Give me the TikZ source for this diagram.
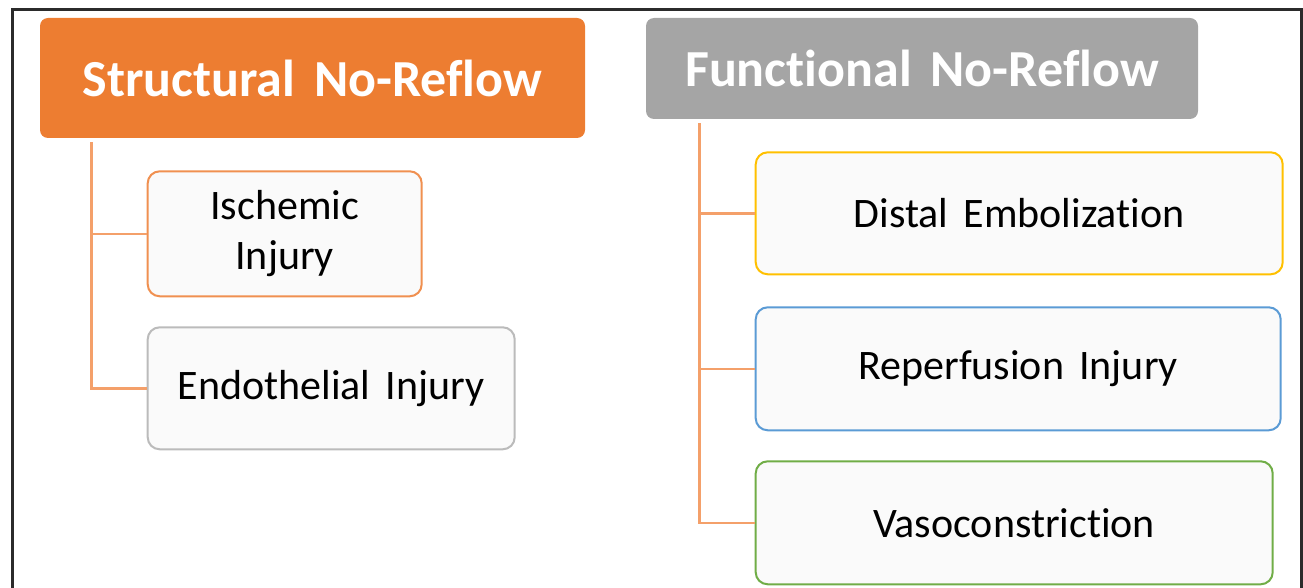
\documentclass[tikz,border=0pt]{standalone}
\usepackage{fontspec}
\setmainfont{Carlito}[WordSpace=1.6,RawFeature={-liga;-clig;-calt;-rlig;-dlig}]
\usetikzlibrary{positioning}

\definecolor{accOrange}{HTML}{ED7D31}
\definecolor{accGray}{HTML}{A5A5A5}
\definecolor{accYellow}{HTML}{FFC000}
\definecolor{accBlue}{HTML}{5B9BD5}
\definecolor{accGreen}{HTML}{70AD47}
\definecolor{linkOrange}{HTML}{F4A06A}
\definecolor{boxFill}{HTML}{FAFAFA}
\definecolor{frameGray}{HTML}{2B2B2B}

\begin{document}
\begin{tikzpicture}[x=1pt,y=-1pt,semithick]
   \tikzstyle{head}=[rectangle,rounded corners=8pt,inner sep=0pt,text=white,
                     font=\fontsize{52}{60}\selectfont\bfseries]
   \tikzstyle{leaf}=[rectangle,rounded corners=12pt,inner sep=0pt,line width=2pt,
                     fill=boxFill,text=black,align=center,
                     font=\fontsize{42}{50}\selectfont]
   \tikzstyle{link}=[draw=linkOrange,line width=2.6pt]

   \useasboundingbox (0,0) rectangle (1303,588);
   % frame
   \draw[frameGray,line width=3pt] (12,588) |- (1301,10) -- (1301,588);

   \node[head,fill=accOrange,minimum width=545pt,minimum height=120pt]
        (struct) at (312.5,78) {Structural No-Reflow};
   \node[head,fill=accGray,minimum width=552pt,minimum height=101pt]
        (func) at (922,68.5) {Funct\kern0pt ional No-Reflow};

   \node[leaf,draw=accOrange!85!white,minimum width=274pt,minimum height=125pt,
         below right=32pt and 107pt of struct.south west] (isch) {Ischemic\\Injury};
   \node[leaf,draw=accGray!75!white,minimum width=367pt,minimum height=122pt,
         below right=29pt and 0pt of isch.south west] (endo) {Endothelial Injury};

   \node[leaf,draw=accYellow,minimum width=527pt,minimum height=122pt,
         below right=32pt and 109pt of func.south west] (distal) {Distal Embolization};
   \node[leaf,draw=accBlue,minimum width=525pt,minimum height=123pt,
         below right=31pt and 0pt of distal.south west] (reperf) {Reperfusion Injury};
   \node[leaf,draw=accGreen,minimum width=517pt,minimum height=123pt,
         below right=29pt and 0pt of reperf.south west] (vaso) {Vasoconstrict\kern0pt ion};

   % connectors
   \draw[link] ([xshift=52pt,yshift=-4pt]struct.south west) |- (endo.west);
   \draw[link] ([xshift=52pt]struct.south west |- isch.west) -- (isch.west);
   \draw[link] ([xshift=54pt,yshift=-4pt]func.south west) |- (vaso.west);
   \draw[link] ([xshift=54pt]func.south west |- distal.west) -- (distal.west);
   \draw[link] ([xshift=54pt]func.south west |- reperf.west) -- (reperf.west);
\end{tikzpicture}
\end{document}
